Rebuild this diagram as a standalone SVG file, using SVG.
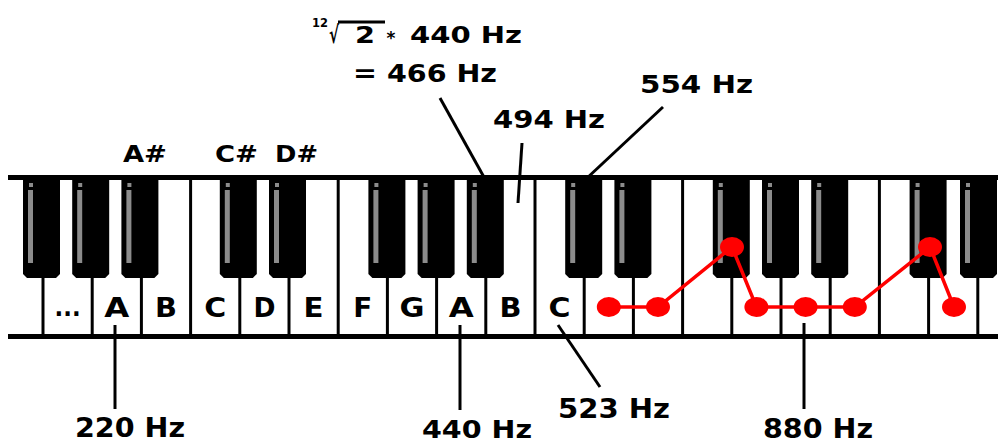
<svg xmlns="http://www.w3.org/2000/svg" xmlns:xlink="http://www.w3.org/1999/xlink" width="998" height="443" viewBox="0 0 998 443">
<style>
.t{font-family:"DejaVu Sans","Liberation Sans",sans-serif;font-weight:bold;fill:#000;}
.c{text-anchor:middle;}
.ld{stroke:#000;stroke-width:3;fill:none;}
.dv{stroke:#000;stroke-width:3;}
.rd{fill:#ff0000;}
.kl{font-size:27px;}
</style>
<defs>
<g id="bk">
<path d="M0,178 h37 v96 l-4,4 h-29 l-4,-4 z" fill="#000"/>
<rect x="5" y="190" width="5" height="73" fill="#8c8c8c"/>
<rect x="6" y="183" width="4" height="4" fill="#8c8c8c"/>
</g>
</defs>
<rect width="998" height="443" fill="#fff"/>
<g id="keyboard">
<rect x="8" y="178" width="990" height="158" fill="#fff"/>
<line class="dv" x1="190.6" y1="178" x2="190.6" y2="335"/>
<line class="dv" x1="338.2" y1="178" x2="338.2" y2="335"/>
<line class="dv" x1="535" y1="178" x2="535" y2="335"/>
<line class="dv" x1="682.6" y1="178" x2="682.6" y2="335"/>
<line class="dv" x1="879.4" y1="178" x2="879.4" y2="335"/>
<line class="dv" x1="43" y1="276" x2="43" y2="335"/>
<line class="dv" x1="92.2" y1="276" x2="92.2" y2="335"/>
<line class="dv" x1="141.4" y1="276" x2="141.4" y2="335"/>
<line class="dv" x1="239.8" y1="276" x2="239.8" y2="335"/>
<line class="dv" x1="289" y1="276" x2="289" y2="335"/>
<line class="dv" x1="387.4" y1="276" x2="387.4" y2="335"/>
<line class="dv" x1="436.6" y1="276" x2="436.6" y2="335"/>
<line class="dv" x1="485.8" y1="276" x2="485.8" y2="335"/>
<line class="dv" x1="584.2" y1="276" x2="584.2" y2="335"/>
<line class="dv" x1="633.4" y1="276" x2="633.4" y2="335"/>
<line class="dv" x1="731.8" y1="276" x2="731.8" y2="335"/>
<line class="dv" x1="781" y1="276" x2="781" y2="335"/>
<line class="dv" x1="830.2" y1="276" x2="830.2" y2="335"/>
<line class="dv" x1="928.6" y1="276" x2="928.6" y2="335"/>
<line class="dv" x1="977.8" y1="276" x2="977.8" y2="335"/>
<use xlink:href="#bk" x="23"/>
<use xlink:href="#bk" x="72.2"/>
<use xlink:href="#bk" x="121.4"/>
<use xlink:href="#bk" x="219.8"/>
<use xlink:href="#bk" x="269"/>
<use xlink:href="#bk" x="368.4"/>
<use xlink:href="#bk" x="417.6"/>
<use xlink:href="#bk" x="466.8"/>
<use xlink:href="#bk" x="565.2"/>
<use xlink:href="#bk" x="614.4"/>
<use xlink:href="#bk" x="712.8"/>
<use xlink:href="#bk" x="762"/>
<use xlink:href="#bk" x="811.2"/>
<use xlink:href="#bk" x="909.6"/>
<use xlink:href="#bk" x="960"/>
<rect x="8" y="175" width="990" height="5" fill="#000"/>
<rect x="8" y="334" width="990" height="5" fill="#000"/>
</g>
<g id="key-labels" class="t c kl">
<text x="67.6" y="316" font-size="24" textLength="26" lengthAdjust="spacingAndGlyphs">...</text>
<text x="116.8" y="317" textLength="25" lengthAdjust="spacingAndGlyphs">A</text>
<text x="166" y="317" textLength="22" lengthAdjust="spacingAndGlyphs">B</text>
<text x="215.2" y="317" textLength="22" lengthAdjust="spacingAndGlyphs">C</text>
<text x="264.4" y="317" textLength="22" lengthAdjust="spacingAndGlyphs">D</text>
<text x="313.6" y="317" textLength="20" lengthAdjust="spacingAndGlyphs">E</text>
<text x="362.8" y="317" textLength="19" lengthAdjust="spacingAndGlyphs">F</text>
<text x="412" y="317" textLength="25" lengthAdjust="spacingAndGlyphs">G</text>
<text x="461.2" y="317" textLength="25" lengthAdjust="spacingAndGlyphs">A</text>
<text x="510.4" y="317" textLength="22" lengthAdjust="spacingAndGlyphs">B</text>
<text x="559.6" y="317" textLength="22" lengthAdjust="spacingAndGlyphs">C</text>
</g>
<g id="sharp-labels" class="t c" font-size="23">
<text x="145" y="162" textLength="44" lengthAdjust="spacingAndGlyphs">A#</text>
<text x="236.5" y="162" textLength="43" lengthAdjust="spacingAndGlyphs">C#</text>
<text x="296.5" y="162" textLength="43" lengthAdjust="spacingAndGlyphs">D#</text>
</g>
<g id="scale">
<polyline points="608.8,307 658,307 732,247 756.4,307 805.6,307 854.8,307 930,247 954,307" fill="none" stroke="#ff0000" stroke-width="3.5"/>
<ellipse class="rd" cx="608.8" cy="307" rx="12" ry="10"/>
<ellipse class="rd" cx="658" cy="307" rx="12" ry="10"/>
<ellipse class="rd" cx="732" cy="247" rx="12" ry="10"/>
<ellipse class="rd" cx="756.4" cy="307" rx="12" ry="10"/>
<ellipse class="rd" cx="805.6" cy="307" rx="12" ry="10"/>
<ellipse class="rd" cx="854.8" cy="307" rx="12" ry="10"/>
<ellipse class="rd" cx="930" cy="247" rx="12" ry="10"/>
<ellipse class="rd" cx="954" cy="307" rx="12" ry="10"/>
</g>
<g id="connectors">
<line class="ld" x1="440" y1="98" x2="485" y2="179"/>
<line class="ld" x1="522" y1="143" x2="518" y2="203"/>
<line class="ld" x1="663" y1="107" x2="586" y2="179"/>
<line class="ld" x1="115" y1="325" x2="115" y2="409"/>
<line class="ld" x1="460" y1="325" x2="460" y2="410"/>
<line class="ld" x1="558" y1="325" x2="600" y2="387"/>
<line class="ld" x1="804" y1="323" x2="804" y2="409"/>
</g>
<g id="formula" class="t">
<text x="312" y="27" font-size="13" textLength="16" lengthAdjust="spacingAndGlyphs">12</text>
<text x="329" y="43" font-size="24" textLength="10" lengthAdjust="spacingAndGlyphs">√</text>
<line x1="338" y1="22" x2="385" y2="22" stroke="#000" stroke-width="3"/>
<text x="355" y="43" font-size="23" textLength="20" lengthAdjust="spacingAndGlyphs">2</text>
<text x="391" y="44" font-size="17" class="c">*</text>
<text x="410" y="43" font-size="23" textLength="112" lengthAdjust="spacingAndGlyphs">440 Hz</text>
<text x="425" y="82" font-size="25" class="c" textLength="144" lengthAdjust="spacingAndGlyphs">= 466 Hz</text>
</g>
<g id="freq-labels" class="t c">
<text x="549" y="128" font-size="25" textLength="112" lengthAdjust="spacingAndGlyphs">494 Hz</text>
<text x="696.5" y="93" font-size="25" textLength="113" lengthAdjust="spacingAndGlyphs">554 Hz</text>
<text x="130" y="437" font-size="27" textLength="110" lengthAdjust="spacingAndGlyphs">220 Hz</text>
<text x="477" y="438" font-size="25" textLength="110" lengthAdjust="spacingAndGlyphs">440 Hz</text>
<text x="614" y="418" font-size="27" textLength="112" lengthAdjust="spacingAndGlyphs">523 Hz</text>
<text x="818" y="438" font-size="26" textLength="110" lengthAdjust="spacingAndGlyphs">880 Hz</text>
</g>
</svg>
